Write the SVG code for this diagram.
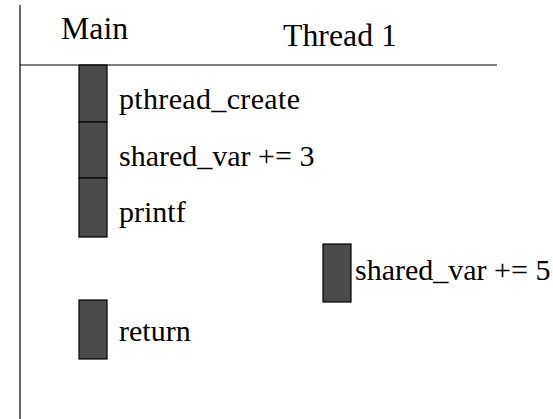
<svg xmlns="http://www.w3.org/2000/svg" width="553" height="419" viewBox="0 0 553 419">
<style>
.bar{fill:#4b4b4b;stroke:#000;stroke-width:1.2}
.t{font-family:'Liberation Serif',serif;font-size:30px;fill:#000}
.h{font-size:31.8px}
.ln{stroke:#000;stroke-width:1.2;fill:none}
</style>
<rect width="553" height="419" fill="#fff"/>
<g id="connectors">
<line class="ln" x1="20" y1="5" x2="20" y2="419"/>
<line class="ln" x1="20" y1="65" x2="497" y2="65"/>
</g>
<g id="header-main"><text class="t h" x="61" y="39">Main</text></g>
<g id="header-thread1"><text class="t h" x="283" y="46">Thread 1</text></g>
<g id="pthread_create"><rect class="bar" x="79" y="65" width="28" height="57"/><text class="t" x="119" y="109" textLength="181">pthread_create</text></g>
<g id="shared_var_3"><rect class="bar" x="79" y="122" width="28" height="56"/><text class="t" x="119" y="166">shared_var += 3</text></g>
<g id="printf"><rect class="bar" x="79" y="178" width="28" height="59"/><text class="t" x="119" y="222">printf</text></g>
<g id="shared_var_5"><rect class="bar" x="323" y="244" width="28" height="58"/><text class="t" x="355" y="280">shared_var += 5</text></g>
<g id="return"><rect class="bar" x="79" y="300" width="28" height="59"/><text class="t" x="119" y="341">return</text></g>
</svg>
